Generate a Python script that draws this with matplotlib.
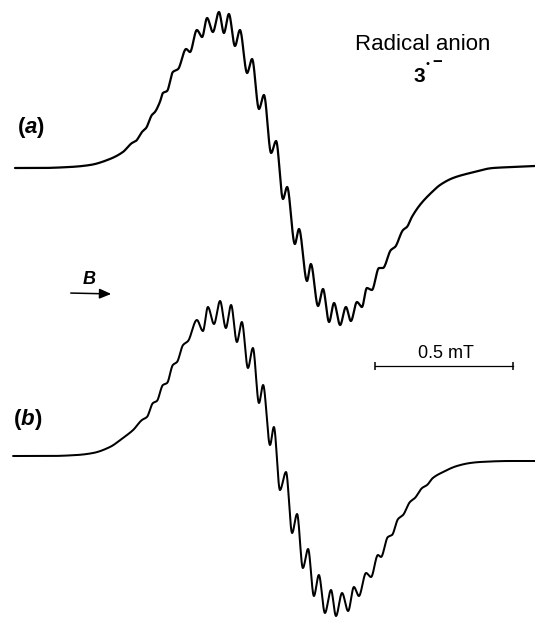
import numpy as np
import matplotlib
matplotlib.use("Agg")
import matplotlib.pyplot as plt
from matplotlib.transforms import blended_transform_factory

plt.rcParams['font.family'] = ['Liberation Sans', 'DejaVu Sans']
plt.rcParams['mathtext.fontset'] = 'custom'
plt.rcParams['mathtext.it'] = 'Liberation Sans:italic:bold'
plt.rcParams['mathtext.rm'] = 'Liberation Sans'

# ---- data: field (mT, relative) and signal (a.u.) ----
field_a = [0.000, 0.091, 0.199, 0.272, 0.344, 0.391, 0.424, 0.438, 0.460, 0.475,
           0.496, 0.507, 0.525, 0.536, 0.551, 0.572, 0.591, 0.620, 0.634, 0.659,
           0.678, 0.696, 0.717, 0.739, 0.757, 0.775, 0.797, 0.815, 0.841, 0.859,
           0.884, 0.902, 0.928, 0.946, 0.971, 0.986, 1.014, 1.029, 1.058, 1.072,
           1.098, 1.116, 1.138, 1.156, 1.178, 1.199, 1.217, 1.239, 1.257, 1.275,
           1.293, 1.319, 1.333, 1.362, 1.377, 1.406, 1.420, 1.438, 1.467, 1.511,
           1.540, 1.587, 1.649, 1.732, 1.804, 1.884]
signal_a = [-0.01, -0.01, 0.00, 0.02, 0.08, 0.15, 0.24, 0.26, 0.35, 0.39,
            0.52, 0.55, 0.65, 0.74, 0.76, 0.95, 0.98, 1.18, 1.15, 1.37,
            1.30, 1.49, 1.35, 1.55, 1.34, 1.53, 1.21, 1.37, 0.94, 1.08,
            0.58, 0.72, 0.14, 0.26, -0.32, -0.20, -0.77, -0.62, -1.14, -0.97,
            -1.39, -1.22, -1.55, -1.36, -1.58, -1.40, -1.54, -1.35, -1.40, -1.21,
            -1.23, -1.01, -1.01, -0.83, -0.80, -0.63, -0.60, -0.50, -0.38, -0.25,
            -0.18, -0.11, -0.06, -0.01, 0.00, 0.01]

field_b = [-0.007, 0.127, 0.225, 0.283, 0.344, 0.391, 0.428, 0.460, 0.478, 0.500,
           0.514, 0.536, 0.551, 0.572, 0.587, 0.609, 0.627, 0.659, 0.681, 0.699,
           0.721, 0.743, 0.764, 0.783, 0.804, 0.822, 0.844, 0.862, 0.884, 0.899,
           0.924, 0.938, 0.960, 0.982, 1.004, 1.022, 1.043, 1.062, 1.083, 1.101,
           1.123, 1.145, 1.163, 1.185, 1.207, 1.228, 1.246, 1.272, 1.290, 1.315,
           1.326, 1.351, 1.366, 1.388, 1.406, 1.431, 1.449, 1.475, 1.493, 1.514,
           1.551, 1.601, 1.649, 1.685, 1.793, 1.884]
signal_b = [0.02, 0.02, 0.03, 0.05, 0.11, 0.20, 0.28, 0.38, 0.41, 0.55,
            0.57, 0.73, 0.75, 0.93, 0.96, 1.13, 1.17, 1.38, 1.27, 1.51,
            1.34, 1.57, 1.30, 1.53, 1.16, 1.36, 0.90, 1.10, 0.55, 0.73,
            0.13, 0.31, -0.32, -0.14, -0.75, -0.56, -1.10, -0.91, -1.38, -1.17,
            -1.55, -1.32, -1.58, -1.35, -1.53, -1.29, -1.38, -1.15, -1.19, -0.97,
            -0.99, -0.79, -0.77, -0.61, -0.57, -0.44, -0.40, -0.30, -0.27, -0.20,
            -0.14, -0.08, -0.05, -0.04, -0.03, -0.03]

scale_bar_mT = 0.5


def pchip(x, y, xs):
    """Shape-preserving cubic through the read points (smooth drawing)."""
    x = np.asarray(x, float)
    y = np.asarray(y, float)
    h = np.diff(x)
    delta = np.diff(y) / h
    d = np.zeros_like(y)
    for k in range(1, len(x) - 1):
        if delta[k - 1] * delta[k] > 0:
            w1 = 2 * h[k] + h[k - 1]
            w2 = h[k] + 2 * h[k - 1]
            d[k] = (w1 + w2) / (w1 / delta[k - 1] + w2 / delta[k])
    d[0] = delta[0]
    d[-1] = delta[-1]
    idx = np.clip(np.searchsorted(x, xs) - 1, 0, len(x) - 2)
    t = (xs - x[idx]) / h[idx]
    h00 = 2 * t**3 - 3 * t**2 + 1
    h10 = t**3 - 2 * t**2 + t
    h01 = -2 * t**3 + 3 * t**2
    h11 = t**3 - t**2
    return h00 * y[idx] + h10 * h[idx] * d[idx] + h01 * y[idx + 1] + h11 * h[idx] * d[idx + 1]


W, H = 535, 617
fig = plt.figure(figsize=(W / 100, H / 100), dpi=100)
fig.patch.set_facecolor('white')

xlim = (-0.0543, 1.8841)
ax_a = fig.add_axes([0, 0, 1, 1])
ax_b = fig.add_axes([0, 0, 1, 1])
for ax in (ax_a, ax_b):
    ax.set_xlim(*xlim)
    ax.axis('off')
    ax.patch.set_alpha(0)
ax_a.set_ylim(-4.50, 1.67)
ax_b.set_ylim(-1.59, 4.58)

xs_a = np.linspace(field_a[0], field_a[-1], 2000)
ax_a.plot(xs_a, pchip(field_a, signal_a, xs_a), color='black', lw=1.6,
          solid_joinstyle='round', solid_capstyle='round')
xs_b = np.linspace(field_b[0], field_b[-1], 2000)
ax_b.plot(xs_b, pchip(field_b, signal_b, xs_b), color='black', lw=1.45,
          solid_joinstyle='round', solid_capstyle='round')

# scale bar (0.5 mT) in field units
tr = blended_transform_factory(ax_a.transData, ax_a.transAxes)
x0 = 1.3043
ax_a.plot([x0, x0 + scale_bar_mT], [1 - 366 / H] * 2, color='black', lw=0.9,
          transform=tr)
ax_a.plot([x0, x0 + scale_bar_mT], [1 - 366 / H] * 2, ls='none', marker='|',
          ms=6, mew=1.1, color='black', transform=tr)
fig.text(446 / W, 1 - 354 / H, f'{scale_bar_mT} mT', ha='center', va='center',
         fontsize=13)

# labels
fig.text(423 / W, 1 - 45 / H, 'Radical anion', ha='center', va='center',
         fontsize=16)
fig.text(419 / W, 1 - 76 / H, '3', ha='center', va='center', fontsize=15,
         fontweight='bold')
fig.text(426 / W, 1 - 64 / H, '•', ha='left', va='center', fontsize=8)
fig.text(432 / W, 1 - 63 / H, '−', ha='left', va='center', fontsize=12,
         fontweight='bold')

fig.text(31 / W, 1 - 128 / H, r'($\mathit{a}$)', ha='center', va='center',
         fontsize=16, fontweight='bold')
fig.text(28 / W, 1 - 420 / H, r'($\mathit{b}$)', ha='center', va='center',
         fontsize=16, fontweight='bold')

# field direction arrow
fig.text(89 / W, 1 - 280 / H, 'B', ha='center', va='center', fontsize=13,
         fontstyle='italic', fontweight='bold')
fig.add_artist(matplotlib.patches.FancyArrowPatch(
    (68 / W, 1 - 293 / H), (114 / W, 1 - 294 / H), transform=fig.transFigure,
    arrowstyle='-|>,head_length=7,head_width=3', color='black', lw=1.1))

fig.savefig('out.png', dpi=100, facecolor='white')
